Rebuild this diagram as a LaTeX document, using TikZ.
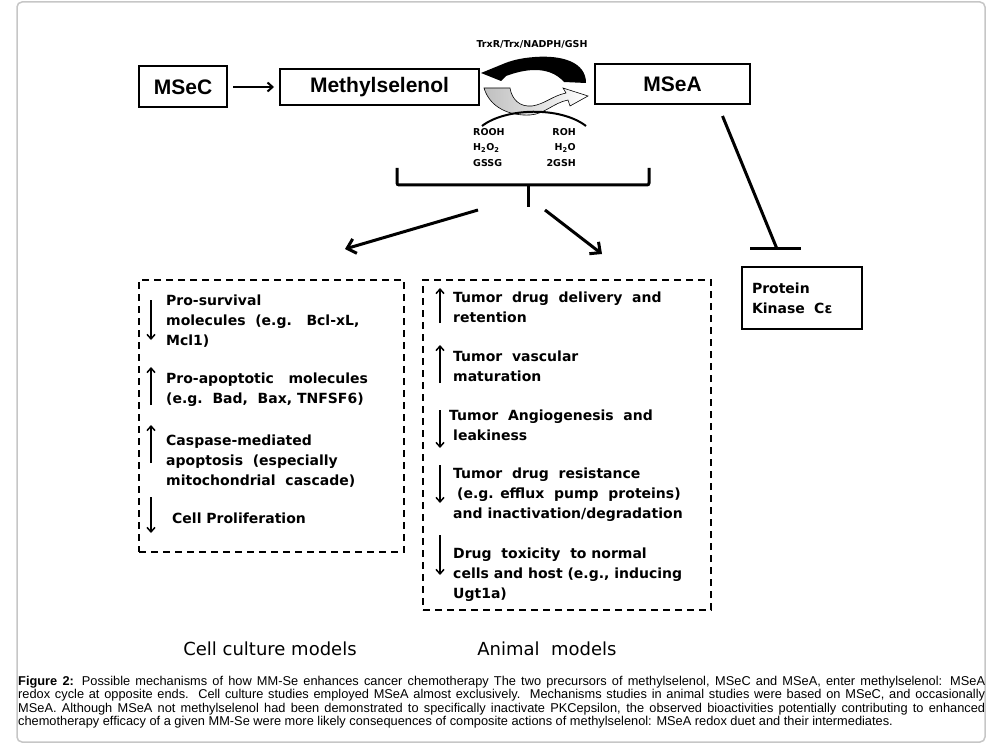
\documentclass[tikz,border=0pt]{standalone}
\usepackage{fontspec}
\setmainfont{Liberation Sans}
\newfontfamily\dejavu{DejaVu Sans}
\usetikzlibrary{positioning,arrows.meta}
\tikzstyle{topbox}=[rectangle, draw=black, line width=2pt, inner sep=0pt,
        font=\bfseries\fontsize{21}{24}\selectfont]
\tikzstyle{dashbox}=[rectangle, draw=black, line width=1.5pt, dash pattern=on 7pt off 5pt]
\tikzstyle{item}=[anchor=north west, inner sep=0pt, align=left,
        font=\dejavu\bfseries\fontsize{14}{20}\selectfont]
\tikzstyle{small}=[inner sep=0pt, font=\dejavu\bfseries\fontsize{9.5}{15.5}\selectfont]
\tikzstyle{updown}=[line width=1.5pt, -{Straight Barb[length=4.5pt,width=8pt]}]
\tikzstyle{bigarrow}=[line width=3pt, -{Straight Barb[length=8pt,width=15pt]}]

\begin{document}
\begin{tikzpicture}[x=1pt, y=-1pt]
        \useasboundingbox (0,0) rectangle (995,751);
        \draw[gray!45, line width=1.5pt, rounded corners=5pt] (17,2) rectangle (985,742);

        % top row
        \node (msec) [topbox, minimum width=88pt, minimum height=41pt] at (183,87) {MSeC};
        \node (methyl) [topbox, minimum width=199pt, minimum height=36pt] at (379.5,87) {Methylselenol};
        \node (msea) [topbox, minimum width=155pt, minimum height=40pt] at (672.5,84) {MSeA};
        \draw[line width=2pt, -{Straight Barb[length=5pt,width=9pt]}, shorten <=5pt, shorten >=5pt]
          (msec) -- (methyl);

        % redox cycle
        \node (trx) [small] at (532,44) {TrxR/Trx/NADPH/GSH};
        \fill (586,83) .. controls (586,62) and (562,55) .. (535,57)
          .. controls (520,58) and (510,61) .. (503,64) -- (481,73) -- (501,81) -- (506,76)
          .. controls (522,70) and (548,64) .. (564,82) -- cycle;
        \shade[left color=gray!50, right color=white, draw=black, line width=0.6pt]
          (484,88) -- (510,88) .. controls (512,100) and (520,107) .. (532,106)
          .. controls (545,104) and (552,96) .. (566,93) -- (563,88) -- (588,96) -- (570,106)
          -- (568,100) .. controls (553,103) and (545,114) .. (530,115)
          .. controls (510,116) and (490,108) .. (484,88) -- cycle;
        \draw[line width=2pt] (482,126) .. controls (505,108) and (560,106) .. (586,126);
        \node (ox) [small, align=left, anchor=north west] at (473,128)
          {ROOH\\H\textsubscript{2}O\textsubscript{2}\\GSSG};
        \node (red) [small, align=right, anchor=north east] at (576,128)
          {ROH\\H\textsubscript{2}O\\2GSH};

        % bracket and fork
        \coordinate (brl) at (397,168);
        \coordinate (brr) at (649,168);
        \coordinate (brm) at (528,185);
        \draw[line width=3pt, rounded corners=2pt] (brl) |- (brm) -| (brr);
        \draw[line width=3pt] (brm) -- ++(0,22);
        \coordinate (cellfrom) at (478,210);
        \coordinate (cellto) at (345,249);
        \coordinate (animfrom) at (545,210);
        \coordinate (animto) at (602,254);
        \draw[bigarrow] (cellfrom) -- (cellto);
        \draw[bigarrow] (animfrom) -- (animto);

        % protein kinase
        \node (pkc) [rectangle, draw=black, line width=2pt, minimum width=120pt, minimum height=62pt,
          text width=100pt, align=left, inner sep=0pt, font=\dejavu\bfseries\fontsize{14}{20}\selectfont]
          at (802,298) {Protein\\Kinase\ \ Cε};
        \coordinate (inh) at (777,249);
        \draw[line width=3pt] ([xshift=50pt,yshift=-11pt]msea.south) -- (inh);
        \draw[line width=3pt] ([xshift=-27pt]inh) -- ([xshift=24pt]inh);

        % cell culture models
        \node (cellbox) [dashbox, minimum width=265pt, minimum height=272pt] at (271.5,416) {};
        \node (surv) [item] at (166,295) {Pro-survival\\molecules\ \ (e.g.\ \ \ Bcl-xL,\\Mcl1)};
        \node (apop) [item] at (166,373) {Pro-apoptotic\ \ \ molecules\\(e.g.\ \ Bad,\ \ Bax, TNFSF6)};
        \node (casp) [item] at (166,435) {Caspase-mediated\\apoptosis\ \ (especially\\mitochondrial\ \ cascade)};
        \node (prol) [item] at (172,513) {Cell Proliferation};
        \draw[updown] (151,300) -- (151,340);
        \draw[updown] (151,405) -- (151,367);
        \draw[updown] (151,463) -- (151,425);
        \draw[updown] (151,497) -- (151,533);

        % animal models
        \node (animbox) [dashbox, minimum width=288pt, minimum height=330pt] at (567,445) {};
        \node (deliv) [item] at (453,292) {Tumor\ \ drug\ \ delivery\ \ and\\retention};
        \node (vasc) [item] at (453,351) {Tumor\ \ vascular\\maturation};
        \node (angio) [item] at (449,410) {Tumor\ \ Angiogenesis\ \ and\\\hspace*{4pt}leakiness};
        \node (resist) [item] at (453,468) {Tumor\ \ drug\ \ resistance\\\hspace*{4pt}(e.g. efflux\ \ pump\ \ proteins)\\and inactivation/degradation};
        \node (toxic) [item] at (453,548) {Drug\ \ toxicity\ \ to normal\\cells and host (e.g., inducing\\Ugt1a)};
        \draw[updown] (440,323) -- (440,288);
        \draw[updown] (440,383) -- (440,345);
        \draw[updown] (440,410) -- (440,448);
        \draw[updown] (440,465) -- (440,503);
        \draw[updown] (440,535) -- (440,575);

        % labels and caption
        \node (celllab) [font=\dejavu\fontsize{18}{20}\selectfont] at (270,649) {Cell culture models};
        \node (animlab) [font=\dejavu\fontsize{18}{20}\selectfont] at (547,649) {Animal\ \ models};
        \node (caption) [anchor=north west, inner sep=0pt, text width=967pt, align=justify,
          font=\fontsize{12.8}{13.3}\selectfont] at (18,676)
          {\textbf{Figure 2:} Possible mechanisms of how MM-Se enhances cancer chemotherapy The two precursors of methylselenol, MSeC and MSeA, enter methylselenol: MSeA\linebreak
          redox cycle at opposite ends.\ \ Cell culture studies employed MSeA almost exclusively.\ \ Mechanisms studies in animal studies were based on MSeC, and occasionally\linebreak
          MSeA. Although MSeA not methylselenol had been demonstrated to specifically inactivate PKCepsilon, the observed bioactivities potentially contributing to enhanced\linebreak
          chemotherapy efficacy of a given MM-Se were more likely consequences of composite actions of methylselenol: MSeA redox duet and their intermediates.};
      \end{tikzpicture}
\end{document}
